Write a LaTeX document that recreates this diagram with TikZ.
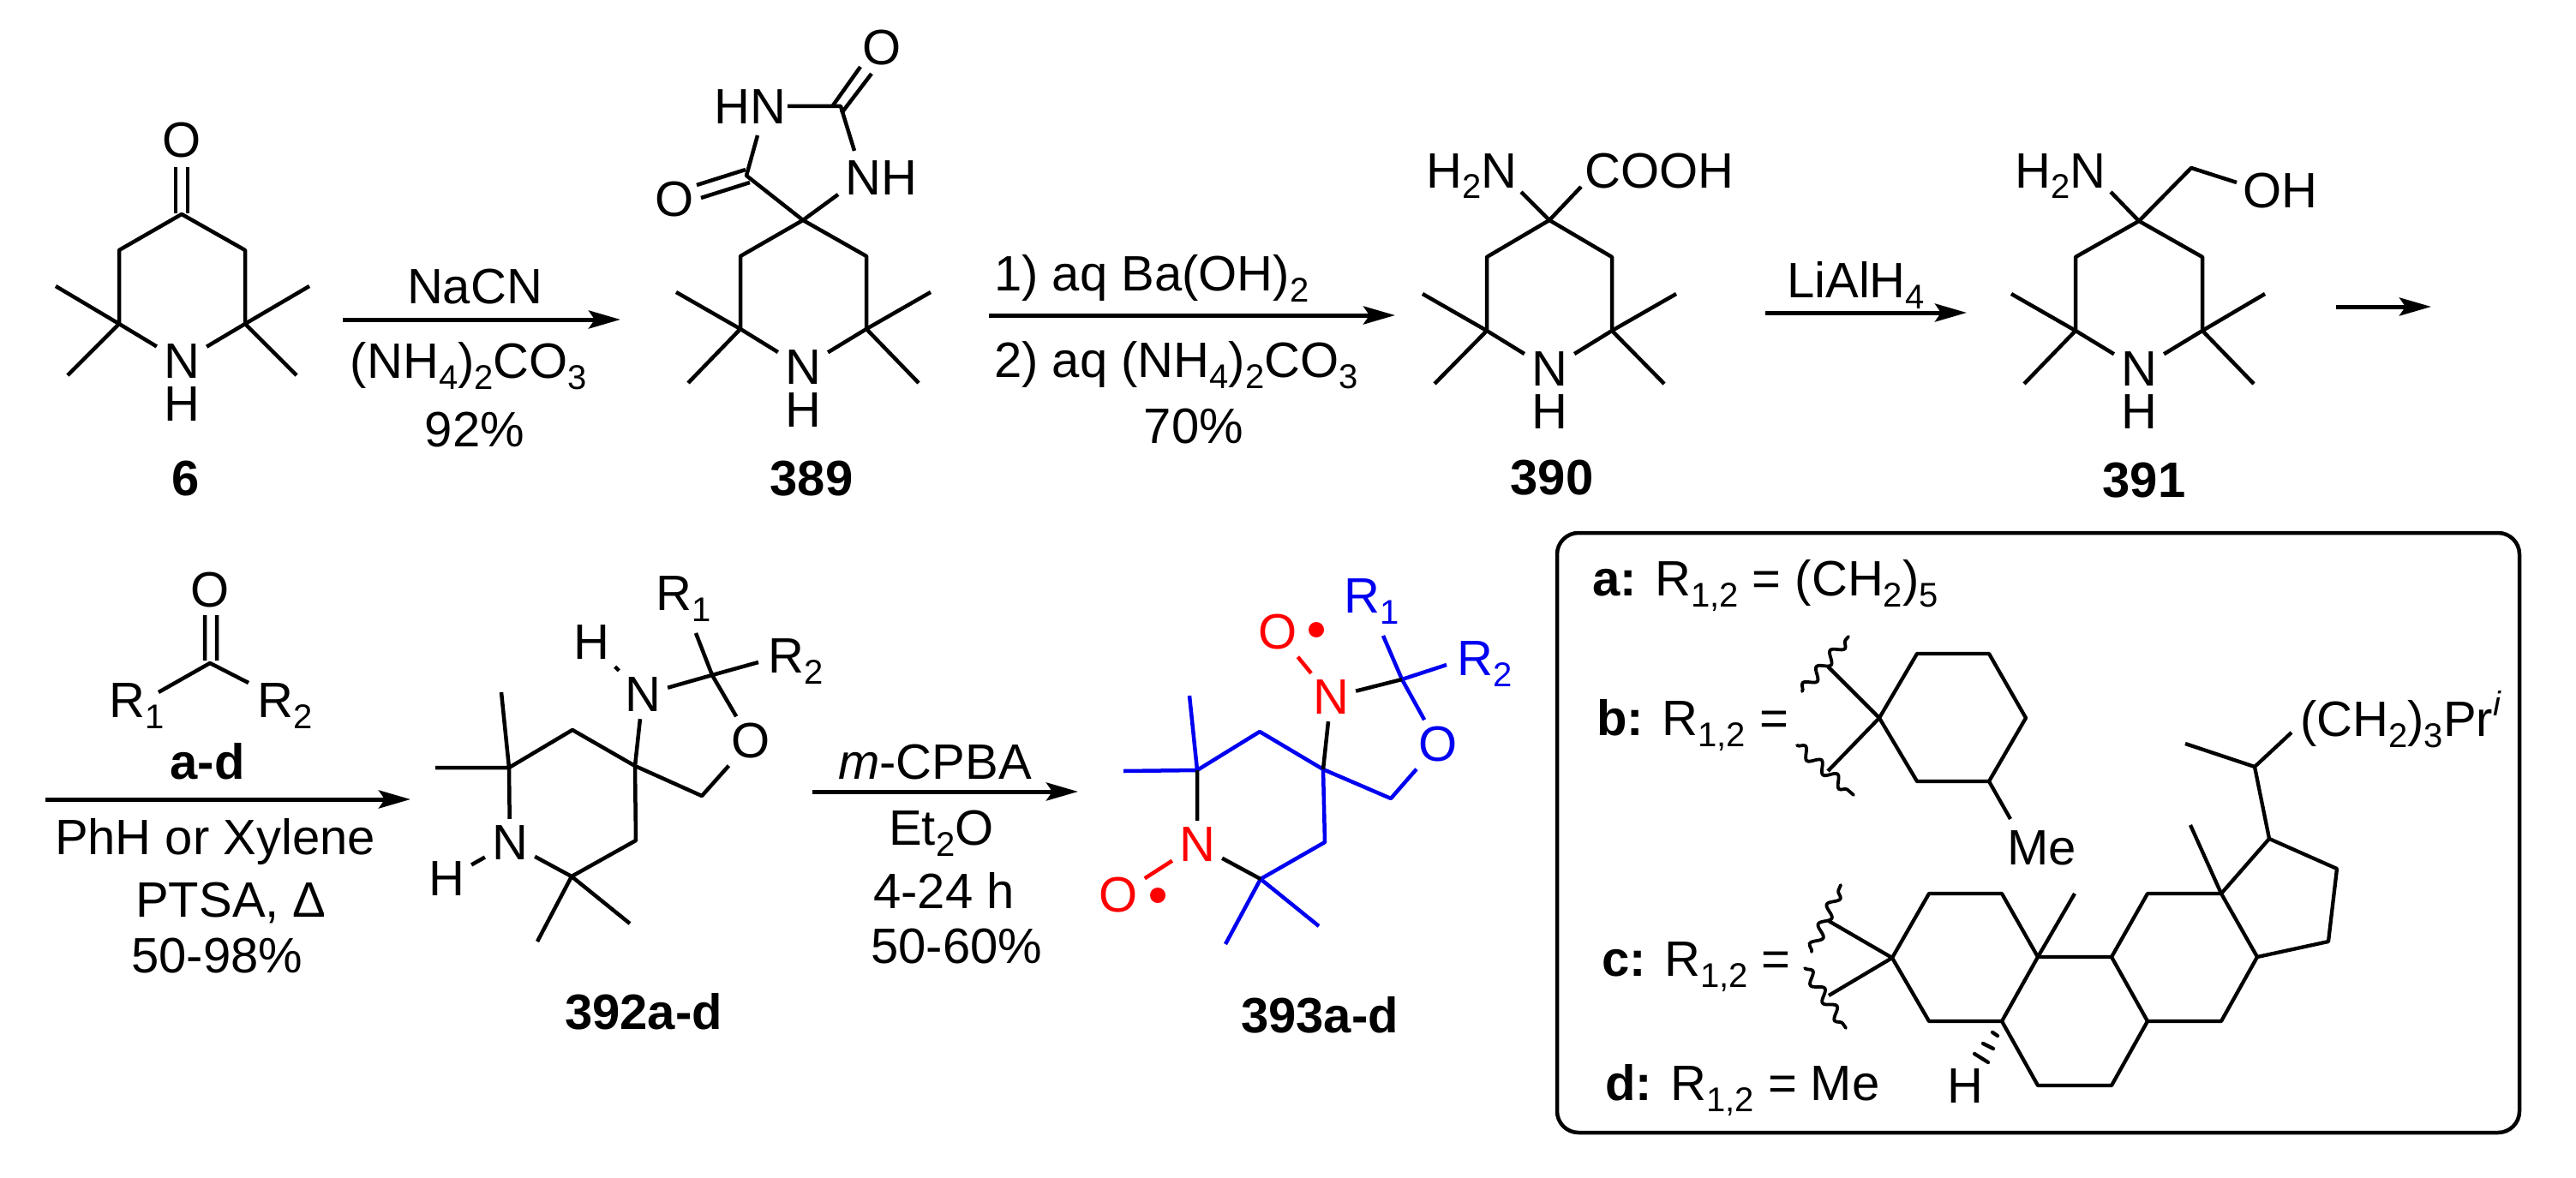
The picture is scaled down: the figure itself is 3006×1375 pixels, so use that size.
\documentclass[tikz,border=0pt]{standalone}
\usepackage{fontspec}
\setmainfont{Liberation Sans}
\usetikzlibrary{arrows.meta,decorations.pathmorphing}
\newcommand\low[1]{\raisebox{-13pt}{\fontsize{40}{42}\selectfont #1}}
\newcommand\upp[1]{\raisebox{24pt}{\fontsize{40}{42}\selectfont #1}}
\newcommand\atoms[1]{\foreach \n/\x/\y in {#1}{\coordinate (\n) at (\x,\y);}}
\definecolor{pblue}{RGB}{0,0,240}
\definecolor{pred}{RGB}{255,0,0}
\tikzset{
  bond/.style={line width=4.5pt,line join=round,draw=black},
  bbond/.style={bond,draw=pblue},
  rbond/.style={bond,draw=pred},
  thin bond/.style={line width=4.3pt,line join=round,draw=black},
  hash/.style={line width=4.3pt,line cap=round,draw=black},
  wavy/.style={line width=3.8pt,line cap=round,draw=black,decorate,decoration={snake,segment length=25pt,amplitude=6pt}},
  rxn/.style={line width=5pt,draw=black,-{Stealth[length=37pt,width=21pt,inset=7pt]}},
  atom/.style={inner sep=8pt,font=\fontsize{58}{60}\selectfont},
  natom/.style={inner xsep=8pt,inner ysep=1pt,font=\fontsize{58}{60}\selectfont},
  hatom/.style={inner sep=0pt,font=\fontsize{58}{60}\selectfont},
  txt/.style={inner sep=0pt,anchor=base west,font=\fontsize{58}{60}\selectfont},
  ctxt/.style={inner sep=0pt,anchor=base,font=\fontsize{58}{60}\selectfont},
  cmp/.style={inner sep=0pt,anchor=center,font=\fontsize{58}{60}\selectfont\bfseries},
  panel/.style={line width=4.5pt,draw=black,rounded corners=25pt}
}
\begin{document}
\begin{tikzpicture}[x=1pt,y=-1pt]
\useasboundingbox (0,0) rectangle (3006,1375);

% ---------- compound 6
\atoms{a1/212/250,a2/139/292,a3/286/292,a4/139/378,a5/286/378,a6/65/334,a7/79/438,a8/361/334,a9/346/438,
 a10/205/195,a11/205/249,a12/219/195,a13/219/249}
\node[natom] (aN) at (212,422) {N};
\node[hatom] (aH) at (212,472) {H};
\node[atom] (aO) at (212,164) {O};
\draw[bond] (aN)--(a4)--(a2)--(a1)--(a3)--(a5)--(aN);
\draw[bond] (a6)--(a4)--(a7) (a8)--(a5)--(a9);
\draw[bond] (a10)--(a11) (a12)--(a13);
\node[cmp] (lab6) at (217,559) {6};

% ---------- arrow 1
\atoms{r1s/400/373,r1e/724/373}
\draw[rxn] (r1s)--(r1e);
\node[ctxt] (t1a) at (554,354) {NaCN};
\node[ctxt] (t1b) at (547,441) {(NH\low{4})\low{2}CO\low{3}};
\node[ctxt] (t1c) at (554,521) {92\%};

% ---------- compound 389
\atoms{b1/937/257,b2/864/299,b3/1011/299,b4/864/384,b5/1011/384,b6/789/341,b7/803/447,b8/1086/341,b9/1072/447,
 b10/871/205,b11/981/124,b12/813/216,b13/870/198,b14/818/231,b15/875/213,b16/1004/78,b17/972/123,b18/1017/86,b19/982/132}
\node[natom] (bN) at (937,429) {N};
\node[hatom] (bH) at (937,479) {H};
\node[atom] (bO1) at (787,233) {O};
\node[atom] (bO2) at (1029,56) {O};
\node[hatom] (bHN) at (875,125) {HN};
\node[hatom] (bNH) at (1028,208) {NH};
\coordinate (b20) at (978,227);
\coordinate (b21) at (997,176);
\coordinate (b22) at (884,158);
\coordinate (b23) at (919,124);
\draw[bond] (bN)--(b4)--(b2)--(b1)--(b3)--(b5)--(bN);
\draw[bond] (b6)--(b4)--(b7) (b8)--(b5)--(b9);
\draw[bond] (b1)--(b10)--(b22) (b23)--(b11)--(b21) (b20)--(b1);
\draw[bond] (b12)--(b13) (b14)--(b15) (b16)--(b17) (b18)--(b19);
\node[cmp] (lab389) at (947,559) {389};

% ---------- arrow 2
\atoms{r2s/1154/368,r2e/1628/368}
\draw[rxn] (r2s)--(r2e);
\node[txt] (t2a) at (1160,339) {1) aq Ba(OH)\low{2}};
\node[txt] (t2b) at (1160,440) {2) aq (NH\low{4})\low{2}CO\low{3}};
\node[ctxt] (t2c) at (1393,517) {70\%};

% ---------- compound 390
\atoms{c1/1808/257,c2/1735/300,c3/1881/300,c4/1735/386,c5/1881/386,c6/1660/343,c7/1674/448,c8/1956/343,c9/1942/448,
 c10/1775/224,c11/1845/218}
\node[natom] (cN) at (1808,431) {N};
\node[hatom] (cH) at (1808,481) {H};
\node[txt] (cNH2) at (1664,219) {H\low{2}N};
\node[txt] (cCOOH) at (1849,219) {COOH};
\draw[bond] (cN)--(c4)--(c2)--(c1)--(c3)--(c5)--(cN);
\draw[bond] (c6)--(c4)--(c7) (c8)--(c5)--(c9) (c10)--(c1)--(c11);
\node[cmp] (lab390) at (1811,558) {390};

% ---------- arrow 3
\atoms{r3s/2060/365,r3e/2295/365}
\draw[rxn] (r3s)--(r3e);
\node[txt] (t3a) at (2085,347) {LiAlH\low{4}};

% ---------- compound 391
\atoms{d1/2496/258,d2/2422/300,d3/2570/300,d4/2422/386,d5/2570/386,d6/2347/343,d7/2362/448,d8/2643/343,d9/2630/448,
 d10/2463/224,d11/2557/196,d12/2610/213}
\node[natom] (dN) at (2496,431) {N};
\node[hatom] (dH) at (2496,481) {H};
\node[txt] (dNH2) at (2351,219) {H\low{2}N};
\node[txt] (dOH) at (2617,242) {OH};
\draw[bond] (dN)--(d4)--(d2)--(d1)--(d3)--(d5)--(dN);
\draw[bond] (d6)--(d4)--(d7) (d8)--(d5)--(d9) (d10)--(d1)--(d11)--(d12);
\node[cmp] (lab391) at (2502,561) {391};

% ---------- arrow 4
\atoms{r4s/2726/358,r4e/2837/358}
\draw[rxn] (r4s)--(r4e);

% ---------- ketone a-d
\atoms{e1/245/774,e2/239/718,e3/239/771,e4/253/718,e5/253/771,e6/185/808,e7/290/797}
\node[atom] (eO) at (245,689) {O};
\node[txt] (eR1) at (127,837) {R\low{1}};
\node[txt] (eR2) at (300,837) {R\low{2}};
\draw[bond] (e2)--(e3) (e4)--(e5) (e6)--(e1)--(e7);
\node[cmp,anchor=base] (tad) at (242,909) {a-d};

% ---------- arrow 5
\atoms{r5s/53/933,r5e/479/933}
\draw[rxn] (r5s)--(r5e);
\node[ctxt] (t5a) at (251,997) {PhH or Xylene};
\node[txt] (t5b) at (158,1070) {PTSA, Δ};
\node[txt] (t5c) at (153,1135) {50-98\%};

% ---------- compound 392
\atoms{f1/594/896,f2/668/852,f3/741/894,f4/742/981,f5/667/1023,f6/585/808,f7/508/896,f8/627/1099,f9/735/1078,
 f10/831/788,f11/819/929,f12/812/739,f13/885/773}
\node[atom] (fN) at (595,984) {N};
\node[atom] (fH) at (521,1026) {H};
\node[atom] (fN2) at (750,811) {N};
\node[atom] (fH2) at (690,750) {H};
\node[atom] (fO) at (876,865) {O};
\node[txt] (fR1) at (765,712) {R\low{1}};
\node[txt] (fR2) at (896,785) {R\low{2}};
\draw[bond] (fN)--(f1)--(f2)--(f3)--(f4)--(f5)--(fN);
\draw[bond] (f6)--(f1)--(f7) (f8)--(f5)--(f9);
\draw[bond] (f3)--(fN2)--(f10)--(fO)--(f11)--(f3);
\draw[bond] (f12)--(f10)--(f13);
\draw[bond] (fN)--(fH) (fN2)--(fH2);
\node[cmp] (lab392) at (751,1181) {392a-d};

% ---------- arrow 6
\atoms{r6s/948/924,r6e/1258/924}
\draw[rxn] (r6s)--(r6e);
\node[txt] (t6a) at (978,909) {\textit{m}-CPBA};
\node[txt] (t6b) at (1037,986) {Et\low{2}O};
\node[txt] (t6c) at (1019,1060) {4-24 h};
\node[txt] (t6d) at (1016,1124) {50-60\%};

% ---------- compound 393
\atoms{g1/1397/899,g2/1470/854,g3/1544/898,g4/1546/983,g5/1471/1026,g6/1388/812,g7/1311/900,g8/1430/1102,g9/1539/1081,
 g10/1636/793,g11/1623/932,g12/1614/742,g13/1688/776}
\node[atom,text=pred] (gN) at (1397,986) {N};
\node[atom,text=pred] (gO) at (1305,1045) {O};
\node[atom,text=pred] (gN2) at (1553,814) {N};
\node[atom,text=pred] (gO2) at (1491,738) {O};
\node[atom,text=pblue] (gO3) at (1678,869) {O};
\node[txt,text=pblue] (gR1) at (1568,715) {R\low{1}};
\node[txt,text=pblue] (gR2) at (1700,788) {R\low{2}};
\draw[bbond] (g1)--(g2)--(g3)--(g4)--(g5);
\draw[bbond] (g6)--(g1)--(g7) (g8)--(g5)--(g9);
\draw[bbond] (g10)--(gO3)--(g11)--(g3) (g12)--(g10)--(g13);
\draw[bond] (g1)--(gN) (gN)--(g5) (g3)--(gN2) (gN2)--(g10);
\draw[rbond] (gN)--(gO) (gN2)--(gO2);
\fill[pred] (1351,1045) circle (9pt);
\fill[pred] (1536,735) circle (9pt);
\node[cmp] (lab393) at (1540,1185) {393a-d};

% ---------- panel
\draw[panel] (1817,622) rectangle (2940,1322);
\node[txt] (pa) at (1858,695) {\textbf{a:} R\low{1,2} = (CH\low{2})\low{5}};
\node[txt] (pb) at (1863,858) {\textbf{b:} R\low{1,2} =};
\node[txt] (pc) at (1869,1139) {\textbf{c:} R\low{1,2} =};
\node[txt] (pd) at (1873,1284) {\textbf{d:} R\low{1,2} = Me};

% ring b
\atoms{h1/2193/838,h2/2237/763,h3/2321/763,h4/2364/838,h5/2321/912,h6/2237/912,h7/2346/956,
 h8/2133/778,h9/2133/900,h10/2103/807,h11/2157/743,h12/2097/870,h13/2163/928}
\node[txt] (hMe) at (2342,1009) {Me};
\draw[thin bond] (h1)--(h2)--(h3)--(h4)--(h5)--(h6)--cycle (h5)--(h7) (h8)--(h1)--(h9);
\draw[wavy] (h10)--(h11);
\draw[wavy] (h12)--(h13);

% steroid c
\atoms{k1/2208/1118,k2/2251/1043,k3/2336/1043,k4/2378/1117,k5/2336/1192,k6/2251/1192,k7/2421/1043,
 k8/2464/1117,k9/2506/1043,k10/2592/1043,k11/2634/1117,k12/2592/1192,k13/2506/1192,k14/2464/1267,k15/2378/1267,
 k16/2648/979,k17/2727/1014,k18/2717/1099,k19/2556/963,k20/2631/895,k21/2550/868,k22/2674/855,
 k23/2134/1075,k24/2134/1162,k25/2114/1111,k26/2148/1033,k27/2106/1130,k28/2154/1200}
\node[txt] (kSide) at (2684,859) {(CH\low{2})\low{3}Pr\upp{\textit{i}}};
\node[hatom] (kH) at (2293,1268) {H};
\draw[thin bond] (k1)--(k2)--(k3)--(k4)--(k5)--(k6)--cycle;
\draw[thin bond] (k4)--(k8)--(k9)--(k10)--(k11)--(k12)--(k13)--(k8);
\draw[thin bond] (k5)--(k15)--(k14)--(k13);
\draw[thin bond] (k4)--(k7) (k10)--(k16)--(k17)--(k18)--(k11) (k10)--(k19);
\draw[thin bond] (k16)--(k20)--(k21) (k20)--(k22);
\draw[thin bond] (k23)--(k1)--(k24);
\draw[wavy] (k25)--(k26);
\draw[wavy] (k27)--(k28);
\atoms{m1/2325/1205,m2/2331/1209,m3/2314/1218,m4/2326/1224,m5/2304/1230,m6/2320/1240}
\draw[hash] (m1)--(m2) (m3)--(m4) (m5)--(m6);
\end{tikzpicture}
\end{document}
